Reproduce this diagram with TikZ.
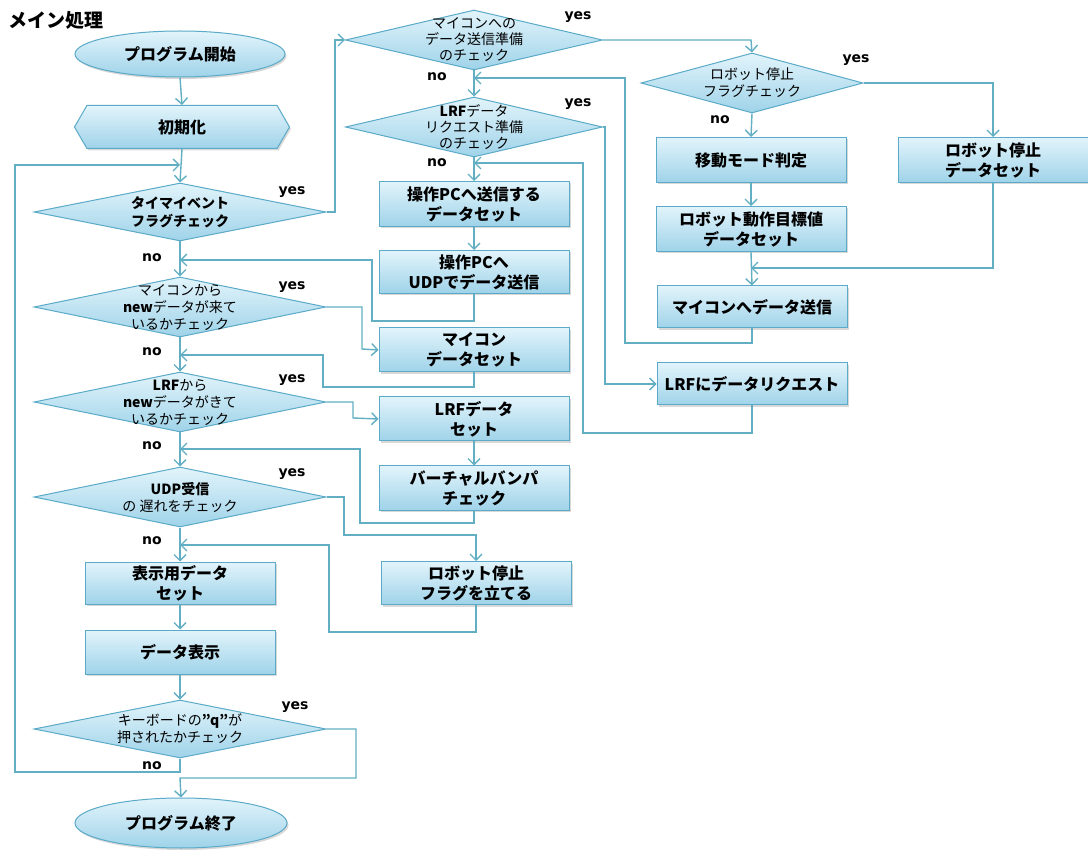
\documentclass[tikz,border=0pt]{standalone}
\usepackage{fontspec}
\setmainfont{Noto Sans CJK JP}
\newfontfamily\latfont{DejaVu Sans}
\usetikzlibrary{arrows.meta,shapes.geometric,shapes.symbols,shadows}
\definecolor{bordc}{HTML}{5AAAC8}
\definecolor{topc}{HTML}{E2F4FB}
\definecolor{botc}{HTML}{9FD3E9}
\definecolor{linec}{HTML}{62AFC3}
\newcommand{\boxfont}{\bfseries\fontsize{16pt}{20pt}\selectfont}
\newcommand{\dfont}{\fontsize{14pt}{17pt}\selectfont}
\tikzset{
  flow/.style={draw=bordc, line width=1pt, top color=topc, bottom color=botc},
  shad/.style={drop shadow={opacity=0.3, shadow xshift=1.5pt, shadow yshift=-2pt}},
  stepbox/.style={flow, shad, rectangle, minimum width=190pt, minimum height=44pt, inner sep=0pt, align=center, font=\boxfont},
  dia/.style={flow, diamond, aspect=5, minimum width=292pt, minimum height=58pt, inner sep=0pt},
  dtext/.style={align=center, font=\dfont, inner sep=0pt},
  term/.style={flow, shad, ellipse, minimum width=210pt, minimum height=46pt, inner sep=0pt, font=\boxfont},
  conn/.style={draw=linec, line width=1.4pt, -{Straight Barb[length=6pt,width=12pt]}},
  lab/.style={font=\latfont\bfseries\fontsize{14pt}{14pt}\selectfont, inner sep=0pt}
}
\begin{document}
\begin{tikzpicture}[x=1pt,y=-1pt]
\useasboundingbox[fill=white] (0,0) rectangle (1088,850);

\node[font=\bfseries\fontsize{19pt}{19pt}\selectfont, anchor=west, inner sep=0pt] (title) at (8,20) {メイン処理};

% main column
\node[term] (start) at (180,54) {プログラム開始};
\node[flow, shad, signal, signal to=east and west, signal pointer angle=120, minimum width=215pt, minimum height=43pt, inner sep=0pt, font=\boxfont] (init) at (182,127) {初期化};
\node[dia] (d_timer) at (180,212) {};
\node[dtext, font=\bfseries\fontsize{14pt}{18pt}\selectfont] (t_timer) at (d_timer) {タイマイベント\\フラグチェック};
\node[dia, minimum height=60pt] (d_mc) at (180,307) {};
\node[dtext] (t_mc) at (d_mc) {マイコンから\\\textbf{new}データが来て\\いるかチェック};
\node[dia, minimum height=60pt] (d_lrf) at (180,402) {};
\node[dtext] (t_lrf) at (d_lrf) {\textbf{LRF}から\\\textbf{new}データがきて\\いるかチェック};
\node[dia, minimum height=60pt] (d_udp) at (180,497) {};
\node[dtext] (t_udp) at (d_udp) {\textbf{UDP受信}\\の 遅れをチェック};
\node[stepbox, minimum height=42pt] (b_disp) at (180,583) {表示用データ\\セット};
\node[stepbox] (b_show) at (180,652) {データ表示};
\node[dia] (d_q) at (180,729) {};
\node[dtext] (t_q) at (d_q) {キーボードの\textbf{"q"}が\\押されたかチェック};
\node[term, minimum height=50pt, minimum width=212pt] (end) at (181,823) {プログラム終了};

% second column
\node[dia, minimum width=257pt, minimum height=60pt] (d_send) at (474,40) {};
\node[dtext, font=\fontsize{14pt}{16pt}\selectfont] (t_send) at (d_send) {マイコンへの\\データ送信準備\\のチェック};
\node[dia, minimum width=257pt, minimum height=60pt] (d_req) at (474,127) {};
\node[dtext, font=\fontsize{14pt}{16pt}\selectfont] (t_req) at (d_req) {\textbf{LRF}データ\\リクエスト準備\\のチェック};
\node[stepbox, minimum height=45pt] (b_pcset) at (474,204) {操作PCへ送信する\\データセット};
\node[stepbox, minimum height=43pt] (b_udp) at (474,272) {操作PCへ\\UDPでデータ送信};
\node[stepbox] (b_mcset) at (474,350) {マイコン\\データセット};
\node[stepbox] (b_lrfset) at (474,419) {LRFデータ\\セット};
\node[stepbox] (b_bumper) at (474,488) {バーチャルバンパ\\チェック};
\node[stepbox, minimum height=43pt] (b_stopflag) at (476,583) {ロボット停止\\フラグを立てる};

% third column
\node[dia, minimum width=222pt, minimum height=60pt] (d_stop) at (752,83) {};
\node[dtext] (t_stop) at (d_stop) {ロボット停止\\フラグチェック};
\node[stepbox, minimum height=45pt] (b_mode) at (751,160) {移動モード判定};
\node[stepbox, minimum height=45pt] (b_target) at (751,229) {ロボット動作目標値\\データセット};
\node[stepbox, minimum height=42pt] (b_mcsend) at (752,307) {マイコンへデータ送信};
\node[stepbox, minimum height=42pt] (b_lrfreq) at (752,384) {LRFにデータリクエスト};
\node[stepbox, minimum height=45pt] (b_stopset) at (993,160) {ロボット停止\\データセット};

% junctions
\coordinate (jA) at (180,165);
\coordinate (jB) at (180,260);
\coordinate (jC) at (180,355);
\coordinate (jD) at (180,449);
\coordinate (jE) at (180,545);
\coordinate (jF) at (474,78);
\coordinate (jG) at (474,163);
\coordinate (jH) at (751,268);

% main column flow
\draw[conn] (start.south) -- (init.north);
\draw[conn] (init.south) -- (d_timer.north);
\draw[conn] (d_timer.south) -- (d_mc.north);
\draw[conn] (d_mc.south) -- (d_lrf.north);
\draw[conn] (d_lrf.south) -- (d_udp.north);
\draw[conn] (d_udp.south) -- (b_disp.north);
\draw[conn] (b_disp.south) -- (b_show.north);
\draw[conn] (b_show.south) -- (d_q.north);
\draw[conn] (d_q.east) -- (356,729) -- (356,778) -- (180,778) -- (end.north);
\draw[conn] (d_q.south) -- (180,772) -- (15,772) -- (15,165) -- (jA);

% yes branches from main column
\draw[conn] (d_timer.east) -- (335,212) -- (335,40) -- (d_send.west);
\draw[conn] (d_mc.east) -- (362,307) -- (362,349) -- (b_mcset.west);
\draw[conn] (d_lrf.east) -- (353,402) -- (353,418) -- (b_lrfset.west);
\draw[conn] (d_udp.east) -- (344,497) -- (344,535) -- (476,535) -- (b_stopflag.north);
\draw[conn] (b_lrfset.south) -- (b_bumper.north);

% returns to main column
\draw[conn] (b_udp.south) -- (474,321) -- (372,321) -- (372,260) -- (jB);
\draw[conn] (b_mcset.south) -- (474,387) -- (323,387) -- (323,355) -- (jC);
\draw[conn] (b_bumper.south) -- (474,523) -- (360,523) -- (360,449) -- (jD);
\draw[conn] (b_stopflag.south) -- (476,632) -- (329,632) -- (329,545) -- (jE);

% second column
\draw[conn] (d_send.east) -- (751,40) -- (d_stop.north);
\draw[conn] (d_send.south) -- (d_req.north);
\draw[conn] (d_req.east) -- (605,127) -- (605,384) -- (b_lrfreq.west);
\draw[conn] (d_req.south) -- (b_pcset.north);
\draw[conn] (b_pcset.south) -- (b_udp.north);
\draw[conn] (b_mcsend.south) -- (752,343) -- (625,343) -- (625,78) -- (jF);
\draw[conn] (b_lrfreq.south) -- (752,433) -- (583,433) -- (583,163) -- (jG);

% third column
\draw[conn] (d_stop.east) -- (993,83) -- (b_stopset.north);
\draw[conn] (d_stop.south) -- (b_mode.north);
\draw[conn] (b_mode.south) -- (b_target.north);
\draw[conn] (b_target.south) -- (b_mcsend.north);
\draw[conn] (b_stopset.south) -- (993,268) -- (jH);

% labels
\node[lab] (y1) at (292,192) {yes};
\node[lab] (n1) at (152,258) {no};
\node[lab] (y2) at (292,287) {yes};
\node[lab] (n2) at (152,352) {no};
\node[lab] (y3) at (292,380) {yes};
\node[lab] (n3) at (152,446) {no};
\node[lab] (y4) at (292,474) {yes};
\node[lab] (n4) at (152,541) {no};
\node[lab] (y5) at (295,707) {yes};
\node[lab] (n5) at (152,766) {no};
\node[lab] (y6) at (578,17) {yes};
\node[lab] (n6) at (437,77) {no};
\node[lab] (y7) at (578,104) {yes};
\node[lab] (n7) at (437,163) {no};
\node[lab] (y8) at (856,60) {yes};
\node[lab] (n8) at (720,120) {no};
\end{tikzpicture}
\end{document}
